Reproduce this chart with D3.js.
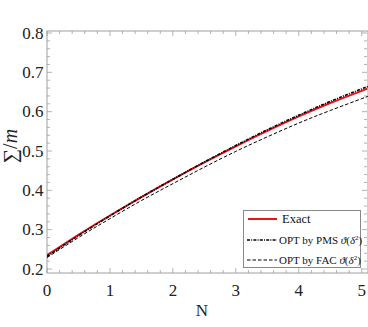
<!DOCTYPE html>
<html><head><meta charset="utf-8">
<script src="https://cdn.jsdelivr.net/npm/d3@7"></script>
<style>body{margin:0;background:#fff}svg{display:block}svg text{font-family:"Liberation Serif","Times New Roman",Times,serif}</style>
</head><body>
<svg id="c" width="368" height="327"></svg>
<script>
const nVals = [0, 0.5, 1, 1.5, 2, 2.5, 3, 3.5, 4, 4.5, 5, 5.1];
const exact = [0.235, 0.287, 0.336, 0.383, 0.428, 0.471, 0.512, 0.551, 0.588, 0.622, 0.653, 0.659];
const pms   = [0.232, 0.285, 0.335, 0.383, 0.428, 0.472, 0.514, 0.554, 0.591, 0.626, 0.658, 0.664];
const fac   = [0.229, 0.280, 0.328, 0.374, 0.417, 0.459, 0.499, 0.536, 0.571, 0.603, 0.633, 0.639];
const xTicks = [0, 1, 2, 3, 4, 5];
const yTicks = [0.2, 0.3, 0.4, 0.5, 0.6, 0.7, 0.8];
const legendLabels = ["Exact", "OPT by PMS ", "OPT by FAC "];

const svg = d3.select("#c");
const L = 47, R = 368, T = 31, B = 273;
const x = d3.scaleLinear().domain([0, 5.1]).range([L, R]);
const y = d3.scaleLinear().domain([0.2, 0.8]).range([269, 33]);
const frame = "#a0a0a0";

// frame
svg.append("rect").attr("x", L).attr("y", T).attr("width", R - L).attr("height", B - T)
  .attr("fill", "none").attr("stroke", frame).attr("stroke-width", 1);

// ticks
const xMinor = d3.range(0, 5.11, 0.2);
const yMinor = d3.range(0.2, 0.805, 0.02);
const g = svg.append("g").attr("stroke", frame).attr("stroke-width", 0.8);
xMinor.forEach(v => {
  const major = xTicks.some(t => Math.abs(t - v) < 1e-6);
  const len = major ? 5 : 3;
  g.append("line").attr("x1", x(v)).attr("x2", x(v)).attr("y1", B).attr("y2", B - len);
  g.append("line").attr("x1", x(v)).attr("x2", x(v)).attr("y1", T).attr("y2", T + len);
});
yMinor.forEach(v => {
  const major = yTicks.some(t => Math.abs(t - v) < 1e-6);
  const len = major ? 5 : 3;
  g.append("line").attr("y1", y(v)).attr("y2", y(v)).attr("x1", L).attr("x2", L + len);
  g.append("line").attr("y1", y(v)).attr("y2", y(v)).attr("x1", R - 1).attr("x2", R - 1 - len);
});

// tick labels
svg.selectAll(".xt").data(xTicks).enter().append("text")
  .attr("x", d => x(d)).attr("y", 295.5).attr("text-anchor", "middle")
  .attr("font-size", 17).attr("fill", "#222").text(d => d);
svg.selectAll(".yt").data(yTicks).enter().append("text")
  .attr("x", 43.5).attr("y", d => y(d) + 5.8).attr("text-anchor", "end")
  .attr("font-size", 17).attr("fill", "#222").text(d => d.toFixed(1));

// axis labels
svg.append("text").attr("x", 202).attr("y", 316).attr("text-anchor", "middle")
  .attr("font-size", 17).attr("fill", "#222").text("N");
const yl = svg.append("text").attr("transform", "translate(17,146) rotate(-90)")
  .attr("text-anchor", "middle").attr("font-size", 20).attr("fill", "#222");
yl.append("tspan").text("∑/");
yl.append("tspan").attr("font-style", "italic").text("m");

// curves
const line = arr => d3.line().x((d, i) => x(nVals[i])).y(d => y(d)).curve(d3.curveNatural)(arr);
svg.append("clipPath").attr("id", "cp").append("rect")
  .attr("x", L).attr("y", T).attr("width", R - L).attr("height", B - T);
const pg = svg.append("g").attr("clip-path", "url(#cp)");
pg.append("path").attr("d", line(fac)).attr("fill", "none").attr("stroke", "#000")
  .attr("stroke-width", 1).attr("stroke-dasharray", "3.5,2");
pg.append("path").attr("d", line(exact)).attr("fill", "none").attr("stroke", "#e8141b")
  .attr("stroke-width", 2);
pg.append("path").attr("d", line(pms)).attr("fill", "none").attr("stroke", "#000")
  .attr("stroke-width", 1.6).attr("stroke-dasharray", "3,1.2,1,1.2");

// legend
const lg = svg.append("g");
lg.append("rect").attr("x", 243.5).attr("y", 210.5).attr("width", 117).attr("height", 57)
  .attr("fill", "#fff").attr("stroke", "#888").attr("stroke-width", 1);
const rows = [219, 240, 260];
const styles = [
  {stroke: "#e8141b", w: 2, dash: null},
  {stroke: "#000", w: 1.6, dash: "3,1.2,1,1.2"},
  {stroke: "#000", w: 1, dash: "3.5,2"}
];
rows.forEach((ry, i) => {
  lg.append("line").attr("x1", i === 0 ? 248 : 247).attr("x2", 277).attr("y1", ry).attr("y2", ry)
    .attr("stroke", styles[i].stroke).attr("stroke-width", styles[i].w)
    .attr("stroke-dasharray", styles[i].dash);
  const t = lg.append("text").attr("x", i === 0 ? 282 : 279).attr("y", ry + 4)
    .attr("font-size", i === 0 ? 12.5 : 11).attr("fill", "#111");
  t.append("tspan").text(legendLabels[i]);
  if (i > 0) {
    t.append("tspan").attr("font-style", "italic").text("ϑ");
    t.append("tspan").text("(");
    t.append("tspan").attr("font-style", "italic").text("δ");
    t.append("tspan").attr("font-size", 7).attr("dy", -4).text("2");
    t.append("tspan").attr("dy", 4).text(")");
  }
});
</script>
</body></html>
